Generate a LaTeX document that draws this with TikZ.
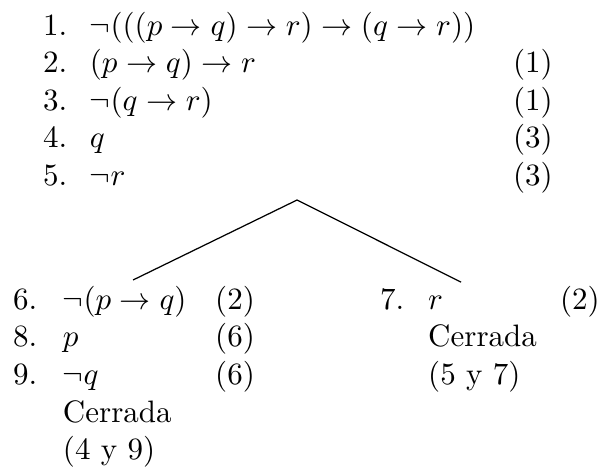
\documentclass[tikz,border=0pt]{standalone}
\begin{document}
\begin{tikzpicture}[x=1pt,y=1pt,
		txt/.style={anchor=base west,inner sep=0pt,outer sep=0pt}]
		\useasboundingbox (0,0) rectangle (193.5,-150.6);
		% tronco
		\node[txt] (n1) at (13.9,-11.3) {1.};
		\node[txt] (f1) at (29,-11.3) {$\neg(((p\rightarrow q)\rightarrow r)\rightarrow(q\rightarrow r))$};
		\node[txt] (n2) at (13.9,-23.4) {2.};
		\node[txt] (f2) at (29,-23.4) {$(p\rightarrow q)\rightarrow r$};
		\node[txt] (j2) at (165.5,-23.4) {(1)};
		\node[txt] (n3) at (13.9,-35.5) {3.};
		\node[txt] (f3) at (29,-35.5) {$\neg(q\rightarrow r)$};
		\node[txt] (j3) at (165.5,-35.5) {(1)};
		\node[txt] (n4) at (13.9,-47.7) {4.};
		\node[txt] (f4) at (29,-47.7) {$q$};
		\node[txt] (j4) at (165.5,-47.7) {(3)};
		\node[txt] (n5) at (13.9,-59.8) {5.};
		\node[txt] (f5) at (29,-59.8) {$\neg r$};
		\node[txt] (j5) at (165.5,-59.8) {(3)};
		% ramas
		\coordinate (root) at (95.8,-64.5);
		\coordinate (lft) at (42.9,-90.3);
		\coordinate (rgt) at (148.7,-91);
		\draw (lft) to (root) to (rgt);
		% rama izquierda
		\node[txt] (n6) at (4.2,-99.7) {6.};
		\node[txt] (f6) at (20.3,-99.7) {$\neg(p\rightarrow q)$};
		\node[txt] (j6) at (69.4,-99.7) {(2)};
		\node[txt] (n8) at (4.2,-111.8) {8.};
		\node[txt] (f8) at (20.3,-111.8) {$p$};
		\node[txt] (j8) at (69.4,-111.8) {(6)};
		\node[txt] (n9) at (4.2,-123.9) {9.};
		\node[txt] (f9) at (20.3,-123.9) {$\neg q$};
		\node[txt] (j9) at (69.4,-123.9) {(6)};
		\node[txt] (c1) at (20.3,-136.1) {Cerrada};
		\node[txt] (k1) at (20.3,-148.2) {(4 y 9)};
		% rama derecha
		\node[txt] (n7) at (122.6,-99.7) {7.};
		\node[txt] (f7) at (138.1,-99.7) {$r$};
		\node[txt,anchor=base east] (j7) at (193.4,-99.7) {(2)};
		\node[txt] (c2) at (138.1,-111.8) {Cerrada};
		\node[txt] (k2) at (138.1,-123.9) {(5 y 7)};
		\end{tikzpicture}
\end{document}
